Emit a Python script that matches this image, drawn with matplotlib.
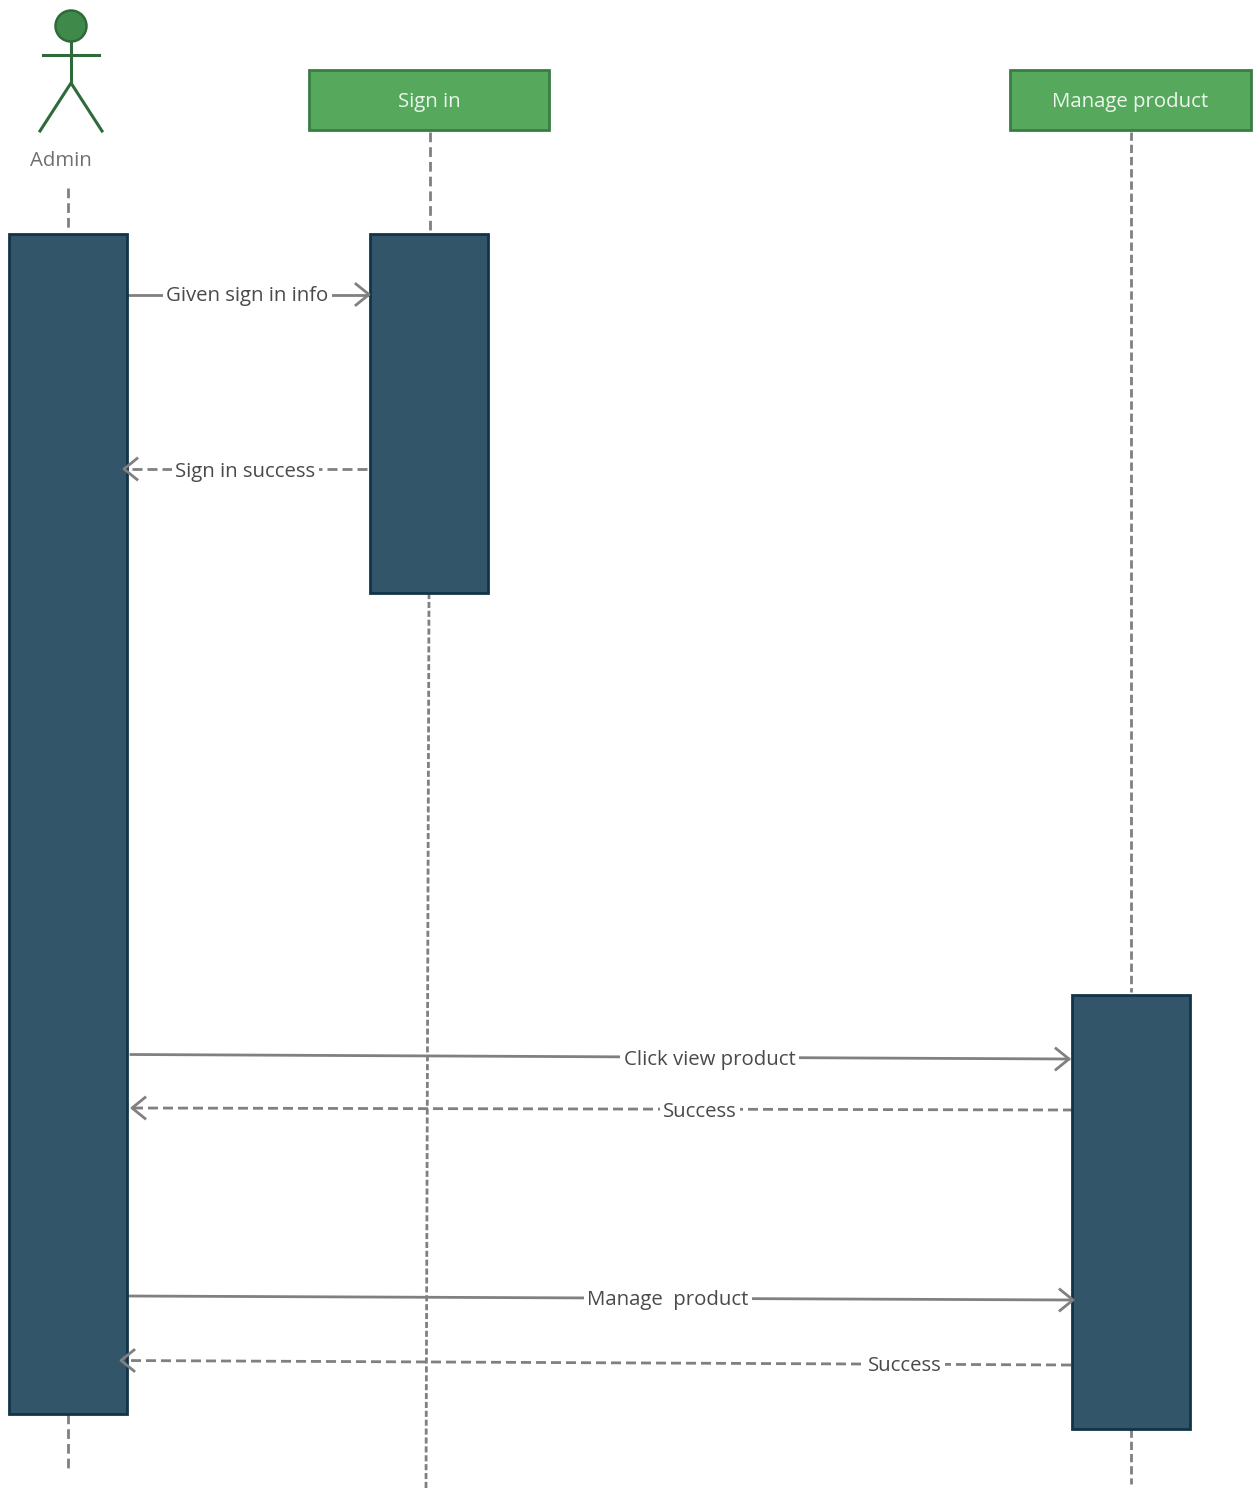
import matplotlib
matplotlib.use("Agg")
import matplotlib.pyplot as plt
from matplotlib.patches import Rectangle, Circle

plt.rcParams['font.family'] = ['Open Sans', 'DejaVu Sans']

# --- Constants ---
WIDTH = 1256
HEIGHT = 1488
GREEN = "#55a85c"
GREEN_EDGE = "#3a7d44"
ACTOR = "#2f6b3a"
ACTOR_FILL = "#3f8a4a"
NAVY = "#33556a"
NAVY_EDGE = "#123449"
GREY = "#808080"
TEXT = "#4a4a4a"
FONT_SIZE = 14.7

# --- Diagram data (pixel positions) ---
# header boxes: label, left, top, right, bottom
header_labels = ["Sign in", "Manage product"]
header_left = [309, 1010]
header_right = [549, 1250.5]
header_top = [69.5, 69.5]
header_bottom = [130, 130]

# activation bars
bar_left = [9, 370, 1072]
bar_right = [127, 488, 1190]
bar_top = [234, 234, 995]
bar_bottom = [1414, 593, 1429]

# lifelines: x start, y start, x end, y end, dash pattern
life_x0 = [68, 68, 429.5, 429, 1131, 1131]
life_y0 = [188, 1414, 132, 593, 132, 1429]
life_x1 = [68, 68, 429.5, 426, 1131, 1131]
life_y1 = [232, 1468, 230, 1488, 992, 1484]
life_dash = [(3.5, 1.8), (3.5, 1.8), (3.5, 1.8), (2.2, 1.0), (3.0, 1.4), (3.0, 1.4)]

# messages: label, start, end, label centre x, dashed or not
msg_labels = ["Given sign in info", "Sign in success", "Click view product",
              "Success", "Manage  product", "Success"]
msg_x0 = [127, 367, 131, 1073, 127, 1071]
msg_y0 = [294.5, 469, 1054.5, 1110, 1296, 1365]
msg_x1 = [369, 124, 1069, 132, 1073, 121]
msg_y1 = [294.5, 469, 1059, 1108, 1300, 1360.5]
msg_text_x = [247.5, 245.5, 709.5, 700, 668, 905]
msg_text_y = [295, 470, 1058, 1110.5, 1298.5, 1364.5]
msg_dashed = [False, True, False, True, False, True]


def draw_message(ax, x0, y0, x1, y1, dashed):
    """Draws one message line with an open arrow head."""
    style = (0, (3.6, 1.8)) if dashed else "-"
    ax.plot([x0, x1], [y0, y1], color=GREY, lw=2.0, ls=style, zorder=3)
    sign = 1 if x1 > x0 else -1
    ax.plot([x1 - sign * 13, x1, x1 - sign * 13], [y1 - 10.5, y1, y1 + 10.5],
            color=GREY, lw=2.0, zorder=5)


def draw_actor(ax):
    """Draws the stick figure for the Admin actor."""
    ax.add_patch(Circle((71, 26), 15.5, facecolor=ACTOR_FILL, edgecolor=ACTOR, lw=1.8, zorder=3))
    ax.plot([71, 71], [41, 83], color=ACTOR, lw=2.2)
    ax.plot([43, 99], [55, 55], color=ACTOR, lw=2.2)
    ax.plot([40, 71, 102], [131, 83, 131], color=ACTOR, lw=2.2)
    ax.text(61, 161, "Admin", color="#6f6f6f", fontsize=FONT_SIZE, ha="center", va="center")


# --- Main Execution Block ---
fig = plt.figure(figsize=(WIDTH / 100, HEIGHT / 100), dpi=100)
ax = fig.add_axes([0, 0, 1, 1])
ax.set_xlim(0, WIDTH)
ax.set_ylim(HEIGHT, 0)
ax.axis('off')

draw_actor(ax)

# Lifelines go under the bars
for x0, y0, x1, y1, dash in zip(life_x0, life_y0, life_x1, life_y1, life_dash):
    ax.plot([x0, x1], [y0, y1], color=GREY, lw=2.0, ls=(0, dash), zorder=1)

for label, l, r, t, b in zip(header_labels, header_left, header_right, header_top, header_bottom):
    ax.add_patch(Rectangle((l, t), r - l, b - t, facecolor=GREEN, edgecolor=GREEN_EDGE, lw=2.0, zorder=2))
    ax.text((l + r) / 2, (t + b) / 2 + 2, label, color="#ecf6ec", fontsize=FONT_SIZE,
            ha="center", va="center", zorder=3)

for l, r, t, b in zip(bar_left, bar_right, bar_top, bar_bottom):
    ax.add_patch(Rectangle((l, t), r - l, b - t, facecolor=NAVY, edgecolor=NAVY_EDGE, lw=2.0, zorder=4))

for i, label in enumerate(msg_labels):
    draw_message(ax, msg_x0[i], msg_y0[i], msg_x1[i], msg_y1[i], msg_dashed[i])
    ax.text(msg_text_x[i], msg_text_y[i] + 1.5, label, color=TEXT, fontsize=FONT_SIZE, ha="center", va="center",
            zorder=6, bbox=dict(facecolor="white", edgecolor="none", pad=2.5))

plt.savefig("out.png", dpi=100)
plt.close(fig)
